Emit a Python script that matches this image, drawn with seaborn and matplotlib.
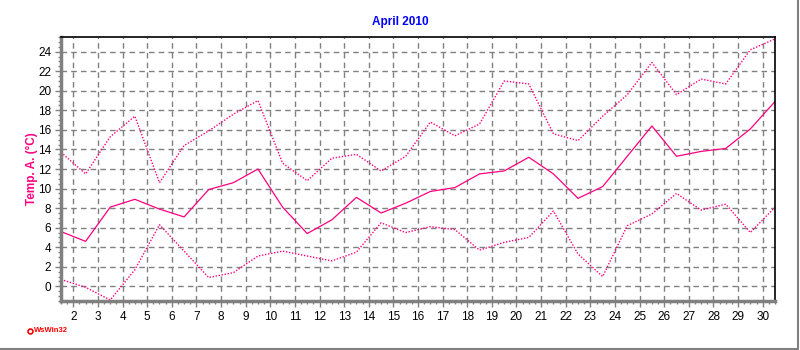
import numpy as np
import pandas as pd
import matplotlib
matplotlib.use("Agg")
import matplotlib.pyplot as plt
from matplotlib.lines import Line2D
from matplotlib.ticker import MultipleLocator
import seaborn as sns

# ---- data ----
days = list(range(1, 31))
temp_mean = [5.6, 4.6, 8.1, 8.9, 7.9, 7.1, 9.9, 10.6, 12.0, 8.1,
             5.4, 6.8, 9.1, 7.5, 8.5, 9.7, 10.1, 11.5, 11.8, 13.2,
             11.5, 9.0, 10.2, 13.3, 16.4, 13.3, 13.8, 14.1, 16.1, 18.9]
temp_max = [13.7, 11.5, 15.3, 17.4, 10.6, 14.4, 15.9, 17.6, 19.0, 12.6,
            10.8, 13.1, 13.5, 11.8, 13.3, 16.8, 15.4, 16.6, 21.0, 20.7,
            15.6, 14.9, 17.4, 19.6, 22.9, 19.6, 21.2, 20.7, 24.2, 25.3]
temp_min = [0.7, -0.1, -1.4, 1.7, 6.3, 3.6, 0.9, 1.4, 3.1, 3.6,
            3.1, 2.6, 3.5, 6.5, 5.5, 6.1, 5.8, 3.7, 4.5, 5.0,
            7.7, 3.3, 1.0, 6.2, 7.4, 9.5, 7.8, 8.4, 5.5, 8.1]
x_ticks = list(range(2, 31))
y_ticks = list(range(0, 25, 2))
title = "April 2010"
ylabel = "Temp. A. (°C)"

sns.set_theme(style="white")
plt.rcParams['font.family'] = ['Liberation Sans', 'DejaVu Sans']

line_color = "#FF0080"
grid_color = "#808080"

df = pd.DataFrame({"x": np.array(days) + 0.5,
                   "mean": temp_mean, "max": temp_max, "min": temp_min})

fig = plt.figure(figsize=(8, 3.5), dpi=100)
ax = fig.add_axes([61/800, 49/350, (775-61)/800, (301-37)/350])

sns.lineplot(data=df, x="x", y="max", ax=ax, color=line_color,
             linestyle=(0, (1, 1.2)), linewidth=1.0)
sns.lineplot(data=df, x="x", y="min", ax=ax, color=line_color,
             linestyle=(0, (1, 1.2)), linewidth=1.0)
sns.lineplot(data=df, x="x", y="mean", ax=ax, color=line_color,
             linestyle="-", linewidth=0.9)

ax.set_xlim(1.5, 30.5)
ax.set_ylim(-1.5, 25.5)
ax.set_xticks(x_ticks)
ax.set_xticklabels([str(t) for t in x_ticks])
ax.set_yticks(y_ticks)
ax.set_yticklabels([str(t) for t in y_ticks])
ax.xaxis.set_minor_locator(MultipleLocator(0.25))
ax.yaxis.set_minor_locator(MultipleLocator(0.5))

ax.grid(True, which="major", color=grid_color, linestyle=(0, (4, 3)), linewidth=1.0)
ax.set_axisbelow(True)

ax.tick_params(axis="both", which="major", direction="out", length=4, width=1,
               color=grid_color, labelsize=8.5, labelcolor="black", pad=3)
ax.tick_params(axis="both", which="minor", direction="out", length=2, width=1,
               color=grid_color)
ax.tick_params(axis="x", which="both", bottom=True)
ax.tick_params(axis="y", which="both", left=True)

for side in ["left", "bottom"]:
    ax.spines[side].set_color(grid_color)
    ax.spines[side].set_linewidth(2.5)
for side in ["top", "right"]:
    ax.spines[side].set_color("black")
    ax.spines[side].set_linewidth(1.2)
    ax.spines[side].set_visible(True)

ax.set_xlabel("")
ax.set_ylabel(ylabel, color=line_color, fontsize=8.5, fontweight="bold")
ax.yaxis.set_label_coords(-0.032, 0.5)
fig.text(400/800, 1 - 22/350, title, color="#0000FF", fontsize=8.5,
         fontweight="bold", ha="center", va="center")

# WsWin32 watermark
fig.add_artist(Line2D([30/800], [1 - 331/350], marker="o", markersize=3.5,
                      markerfacecolor="white", markeredgecolor="red",
                      markeredgewidth=1.2, linestyle="none"))
fig.text(34/800, 1 - 331/350, "WsWin32", color="red", fontsize=5.5,
         fontweight="bold", ha="left", va="center")

# figure frame lines (right and bottom)
fig.add_artist(Line2D([0, 798/800], [1 - 348.5/350, 1 - 348.5/350],
                      color=grid_color, linewidth=1.5))
fig.add_artist(Line2D([798/800, 798/800], [1 - 348.5/350, 1],
                      color=grid_color, linewidth=1.5))

fig.savefig("out.png", dpi=100, facecolor="white")
